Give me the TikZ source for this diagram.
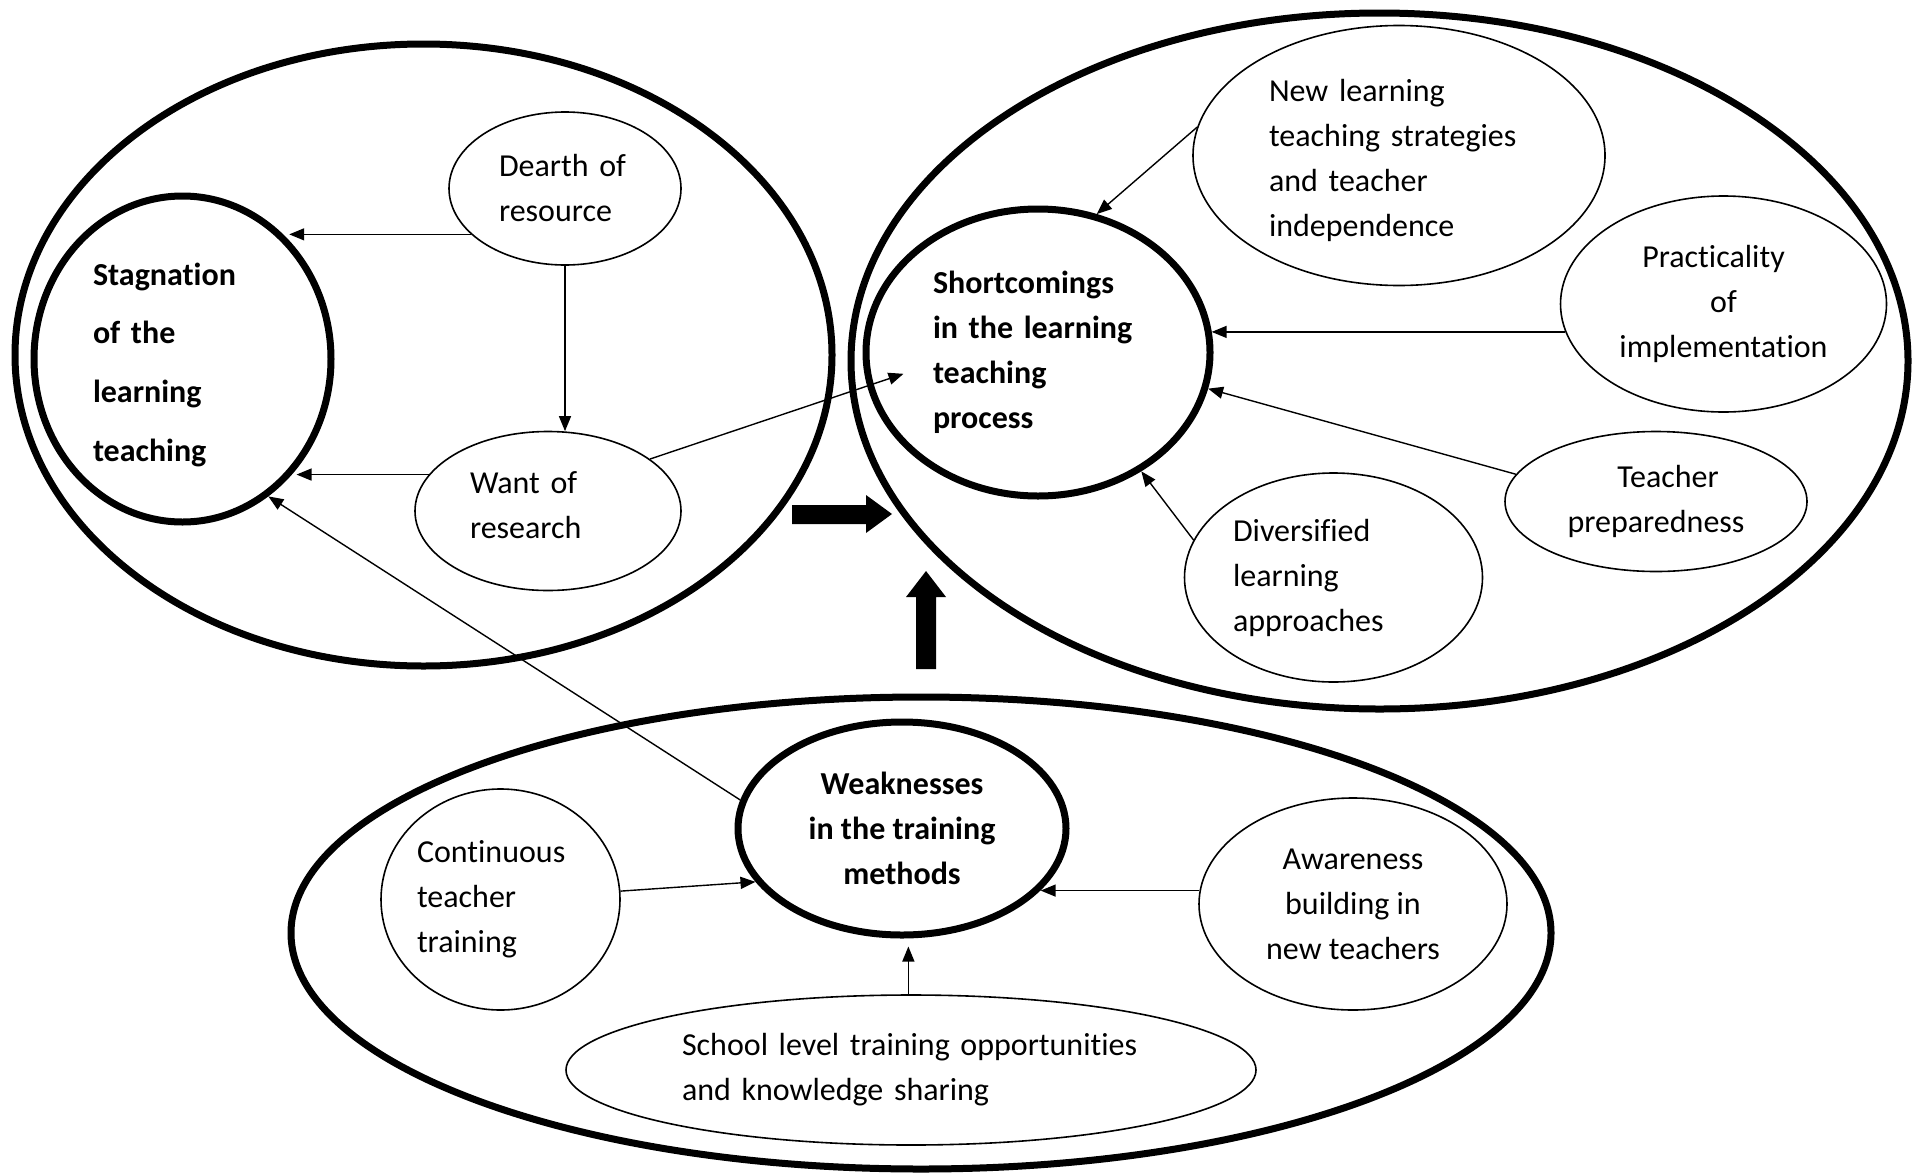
\documentclass[tikz,border=0pt]{standalone}
\usepackage{fontspec}
\setmainfont{Carlito}[Ligatures=NoCommon]
\usetikzlibrary{arrows.meta}
\usetikzlibrary{shapes.geometric}
\usetikzlibrary{calc}

\begin{document}
\begin{tikzpicture}[x=0.5pt,y=-0.5pt,
		>={Triangle[length=7.5pt,width=6pt]},
		every node/.style={font=\fontsize{16}{22.5}\selectfont, inner sep=0pt},
		ring/.style={draw, ellipse, line width=0.8pt},
		core/.style={draw, ellipse, line width=3.5pt, font=\bfseries\fontsize{16}{22.5}\selectfont},
		group/.style={draw, line width=3.5pt},
		link/.style={->, line width=0.7pt}]
		\useasboundingbox (0,0) rectangle (1921,1173);
		\draw[group] (423.5,355) ellipse [x radius=204.25pt, y radius=155.5pt];
		\draw[group] (1379.5,361) ellipse [x radius=264.25pt, y radius=174pt];
		\draw[group] (921,933) ellipse [x radius=315pt, y radius=118pt];

		\node[core, minimum width=148.5pt, minimum height=163pt, text width=89.5pt, align=left,
			font=\bfseries\fontsize{16}{29.3}\selectfont] (stag) at (182.5,359) {\rule{0pt}{17pt}Stagnation\\of the\\learning\\teaching};
		\node[ring, minimum width=116pt, minimum height=76.5pt, text width=66pt, align=left] (dearth) at (565,188.5) {Dearth of\\resource};
		\node[ring, minimum width=133pt, minimum height=79.5pt, text width=78pt, align=left] (want) at (548,511) {Want of\\research\rule[-6pt]{0pt}{0pt}};

		\node[core, minimum width=172pt, minimum height=143.5pt, text width=105pt, align=left] (short) at (1038,352.5) {Shortcomings\\in the learning\\teaching\\process};
		\node[ring, minimum width=206pt, minimum height=130pt, text width=130pt, align=left] (new) at (1399,155.5) {\rule{0pt}{16.5pt}New learning\\teaching strategies\\and teacher\\independence};
		\node[ring, minimum width=163pt, minimum height=108pt, align=center] (prac) at (1723.5,304) {Practicality\hspace*{10pt}\\of\hspace*{10pt}\\implementation};
		\node[ring, minimum width=151pt, minimum height=70pt, align=center] (teacher) at (1656,501.5) {\hspace*{12pt}Teacher\\preparedness};
		\node[ring, minimum width=149pt, minimum height=104.5pt, text width=100.5pt, align=left] (div) at (1333.5,577.5) {Diversified\\learning\\approaches};

		\node[core, minimum width=164pt, minimum height=106.5pt, align=center] (weak) at (902,828.5) {Weaknesses\\in the training\\methods};
		\node[ring, minimum width=119.5pt, minimum height=110.5pt, text width=83.5pt, align=left] (cont) at (500.5,899.5) {Continuous\\teacher\\training};
		\node[ring, minimum width=154pt, minimum height=106pt, align=center] (aware) at (1353,904) {Awareness\\building in\\new teachers};
		\node[ring, minimum width=345pt, minimum height=75pt, text width=229pt, align=left] (school) at (911,1070) {School level training opportunities\\and knowledge sharing};

		\draw[link] (dearth.206) -- (dearth.206 -| stag.48);
		\draw[link] (dearth.south) -- (dearth.south |- want.80);
		\draw[link] (want.163) -- (want.163 -| stag.-44);
		\draw[link] (want.27) -- ($(short.center)!0.78!(short.189)$);
		\draw[link] (weak.170) -- (stag.-58);
		\draw[link] (new.172) -- (short.67);
		\draw[link] (prac.190) -- (prac.190 -| short.7);
		\draw[link] (teacher.169) -- (short.-12);
		\draw[link] (div.165) -- (short.-49);
		\draw[link] (cont.4) -- (weak.200);
		\draw[link] (aware.175) -- (aware.175 -| weak.-24);
		\draw[link, shorten >=4pt] (school.92) -- (school.92 |- weak.south);

		\fill (792,505) -- (866,505) -- (866,495) -- (892,514) -- (866,533) -- (866,524) -- (792,524) -- cycle;
		\fill (916,669) -- (916,597) -- (906,597) -- (926,571) -- (946,597) -- (936,597) -- (936,669) -- cycle;
	\end{tikzpicture}
\end{document}
